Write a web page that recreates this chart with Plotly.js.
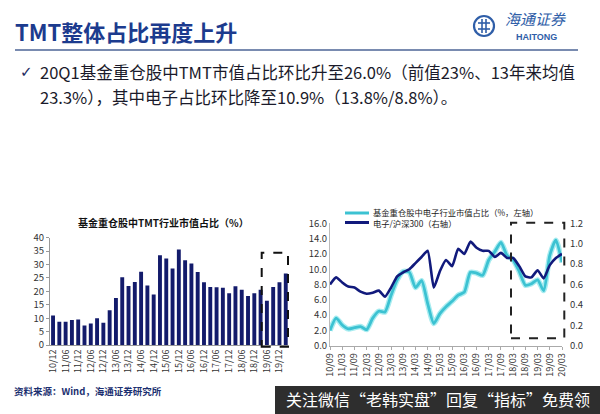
<!DOCTYPE html>
<html>
<head>
<meta charset="utf-8">
<script src="https://cdn.plot.ly/plotly-3.0.1.min.js"></script>
<style>html,body{margin:0;padding:0;background:#fff;}#chart{width:600px;height:414px;}</style>
</head>
<body>
<div id="chart"></div>
<script>
// Left chart: TMT share of fund heavy holdings (%)
var barQuarters = ["10/12","11/03","11/06","11/09","11/12","12/03","12/06","12/09","12/12","13/03","13/06","13/09","13/12","14/03","14/06","14/09","14/12","15/03","15/06","15/09","15/12","16/03","16/06","16/09","16/12","17/03","17/06","17/09","17/12","18/03","18/06","18/09","18/12","19/03","19/06","19/09","19/12","20/03"];
var tmtShare = [11.0,8.7,8.7,9.3,9.5,7.3,8.0,10.0,8.3,13.0,17.5,25.3,22.0,23.5,27.3,22.2,18.8,33.5,32.2,28.5,35.6,31.6,30.4,27.2,23.4,21.6,21.5,21.3,19.3,21.9,20.6,18.3,19.3,20.6,16.5,21.6,23.4,26.7];
var barTickLabels = ["10/12","11/06","11/12","12/06","12/12","13/06","13/12","14/06","14/12","15/06","15/12","16/06","16/12","17/06","17/12","18/06","18/12","19/06","19/12"];

// Right chart: electronics share (left axis, %) and electronics / CSI300 (right axis)
var lineQuarters = ["10/09","10/12","11/03","11/06","11/09","11/12","12/03","12/06","12/09","12/12","13/03","13/06","13/09","13/12","14/03","14/06","14/09","14/12","15/03","15/06","15/09","15/12","16/03","16/06","16/09","16/12","17/03","17/06","17/09","17/12","18/03","18/06","18/09","18/12","19/03","19/06","19/09","19/12","20/03"];
var elecShare = [2.0,3.6,2.7,2.2,2.35,2.5,2.1,3.6,4.5,4.4,6.6,8.6,9.7,9.6,7.6,8.5,5.5,2.9,4.2,5.1,5.8,6.6,7.0,9.6,9.5,9.2,11.2,12.3,13.5,11.8,11.2,9.7,7.9,8.1,8.6,7.2,11.8,13.8,10.9];
var elecVsHS300 = [0.60,0.67,0.62,0.58,0.57,0.53,0.51,0.52,0.54,0.48,0.57,0.68,0.72,0.75,0.81,0.87,0.93,0.57,0.73,0.84,0.78,0.95,0.90,1.02,0.96,0.93,0.93,0.87,0.91,0.86,0.86,0.78,0.68,0.67,0.74,0.66,0.79,0.86,0.90];
var lineTickLabels = ["10/09","11/03","11/09","12/03","12/09","13/03","13/09","14/03","14/09","15/03","15/09","16/03","16/09","17/03","17/09","18/03","18/09","19/03","19/09","20/03"];

var FONT = "'Noto Sans CJK SC','Noto Sans',Arial,sans-serif";
var W = 600, H = 414;
function px(x){return x/W;}
function py(y){return 1 - y/H;}

var traces = [
  {type:'bar', x:barQuarters, y:tmtShare, xaxis:'x', yaxis:'y', marker:{color:'#131b6b'}, width:0.62, showlegend:false, hoverinfo:'none'},
  {type:'scatter', mode:'lines', x:lineQuarters, y:elecShare, xaxis:'x2', yaxis:'y2', line:{color:'#a8ecf0', width:5.5, shape:'spline', smoothing:0.6}, showlegend:false, hoverinfo:'none'},
  {type:'scatter', mode:'lines', x:lineQuarters, y:elecShare, xaxis:'x2', yaxis:'y2', line:{color:'#3cc2d2', width:2.8, shape:'spline', smoothing:0.6}, showlegend:false, hoverinfo:'none'},
  {type:'scatter', mode:'lines', x:lineQuarters, y:elecVsHS300, xaxis:'x2', yaxis:'y3', line:{color:'#111a7c', width:2.6, shape:'spline', smoothing:0.5}, showlegend:false, hoverinfo:'none'}
];

var axFont = {family:FONT, size:9.5, color:'#333'};
var layout = {
  width:W, height:H, margin:{l:0,r:0,t:0,b:0},
  paper_bgcolor:'#fff', plot_bgcolor:'rgba(0,0,0,0)',
  showlegend:false, bargap:0.35,
  xaxis:{domain:[px(49.9),px(288.9)], anchor:'y', type:'category', range:[-0.5,37.5], tickmode:'array', tickvals:barTickLabels, ticktext:barTickLabels, tickangle:-90, tickfont:{family:FONT,size:9,color:'#333'}, showline:true, linecolor:'#999', linewidth:1, ticks:'', showgrid:false, zeroline:false, fixedrange:true},
  yaxis:{domain:[py(345),py(237.7)], anchor:'x', range:[0,40], dtick:5, tickfont:axFont, showline:true, linecolor:'#999', linewidth:1, ticks:'outside', ticklen:3, tickcolor:'#999', showgrid:false, zeroline:false, fixedrange:true},
  xaxis2:{domain:[px(330),px(562)], anchor:'y2', type:'category', range:[0,38], tickmode:'array', tickvals:lineTickLabels, ticktext:lineTickLabels, tickangle:-90, tickfont:{family:FONT,size:9,color:'#333'}, showline:true, linecolor:'#aaa', linewidth:1, ticks:'outside', ticklen:3, tickcolor:'#aaa', showgrid:false, zeroline:false, fixedrange:true},
  yaxis2:{domain:[py(345.7),py(223.3)], anchor:'x2', range:[0,16], dtick:2, tickformat:'.1f', tickfont:axFont, showline:true, linecolor:'#bbb', linewidth:1, ticks:'', showgrid:false, zeroline:false, fixedrange:true},
  yaxis3:{overlaying:'y2', anchor:'x2', side:'right', range:[0,1.2], dtick:0.2, tickformat:'.1f', tickfont:axFont, showline:false, ticks:'outside', ticklen:5, tickcolor:'rgba(0,0,0,0)', showgrid:false, zeroline:false, fixedrange:true},
  shapes:[
    // header rule
    {type:'line', xref:'paper', yref:'paper', x0:px(15), x1:px(578), y0:py(50), y1:py(50), line:{color:'#4d6596', width:1.5}},
    // logo circle
    {type:'circle', xref:'paper', yref:'paper', x0:px(474), x1:px(494), y0:py(36), y1:py(16), line:{color:'#2f5ea8', width:2.2}},
    {type:'line', xref:'paper', yref:'paper', x0:px(478), x1:px(490), y0:py(23), y1:py(23), line:{color:'#2f5ea8', width:1.6}},
    {type:'line', xref:'paper', yref:'paper', x0:px(478), x1:px(490), y0:py(29), y1:py(29), line:{color:'#2f5ea8', width:1.6}},
    {type:'line', xref:'paper', yref:'paper', x0:px(482), x1:px(482), y0:py(19), y1:py(33), line:{color:'#2f5ea8', width:1.6}},
    {type:'line', xref:'paper', yref:'paper', x0:px(486), x1:px(486), y0:py(19), y1:py(33), line:{color:'#2f5ea8', width:1.6}},
    // dashed highlight boxes
    {type:'rect', xref:'paper', yref:'paper', x0:px(261.7), x1:px(288), y0:py(346.7), y1:py(252.7), line:{color:'#111', width:2, dash:'dash'}},
    {type:'rect', xref:'paper', yref:'paper', x0:px(511), x1:px(564.3), y0:py(338.3), y1:py(222.7), line:{color:'#222', width:2, dash:'dash'}},
    // legend samples
    {type:'line', xref:'paper', yref:'paper', x0:px(345), x1:px(369), y0:py(213), y1:py(213), line:{color:'#3cc2d2', width:3}},
    {type:'line', xref:'paper', yref:'paper', x0:px(345), x1:px(369), y0:py(222.5), y1:py(222.5), line:{color:'#111a7c', width:3}},
    // watermark band
    {type:'rect', xref:'paper', yref:'paper', x0:px(275), x1:1, y0:0, y1:py(386), fillcolor:'#2e2e2e', line:{width:0}}
  ],
  annotations:[
    {xref:'paper', yref:'paper', x:px(13), y:py(31), xanchor:'left', yanchor:'middle', showarrow:false, text:'<b>TMT整体占比再度上升</b>', font:{family:FONT, size:22, color:'#1c3b8e'}},
    {xref:'paper', yref:'paper', x:px(503), y:py(19), xanchor:'left', yanchor:'middle', showarrow:false, text:'<i>海通证券</i>', font:{family:FONT, size:15, color:'#2f5ea8'}},
    {xref:'paper', yref:'paper', x:px(514), y:py(37), xanchor:'left', yanchor:'middle', showarrow:false, text:'<b>HAITONG</b>', font:{family:'Liberation Sans, Arial, sans-serif', size:9, color:'#2f5ea8'}},
    {xref:'paper', yref:'paper', x:px(18), y:py(72), xanchor:'left', yanchor:'middle', showarrow:false, text:'✓', font:{family:'DejaVu Sans', size:15, color:'#1c2a5e'}},
    {xref:'paper', yref:'paper', x:px(38), y:py(72), xanchor:'left', yanchor:'middle', showarrow:false, text:'20Q1基金重仓股中TMT市值占比环比升至26.0%（前值23%、13年来均值', font:{family:FONT, size:16.5, color:'#1a1a2a'}},
    {xref:'paper', yref:'paper', x:px(38), y:py(96.5), xanchor:'left', yanchor:'middle', showarrow:false, text:'23.3%），其中电子占比环比降至10.9%（13.8%/8.8%）。', font:{family:FONT, size:16.5, color:'#1a1a2a'}},
    {xref:'paper', yref:'paper', x:px(163), y:py(222.5), xanchor:'center', yanchor:'middle', showarrow:false, text:'<b>基金重仓股中TMT行业市值占比（%）</b>', font:{family:FONT, size:10, color:'#111'}},
    {xref:'paper', yref:'paper', x:px(371), y:py(212.5), xanchor:'left', yanchor:'middle', showarrow:false, text:'基金重仓股中电子行业市值占比（%，左轴）', font:{family:FONT, size:8.3, color:'#222'}},
    {xref:'paper', yref:'paper', x:px(371), y:py(222.5), xanchor:'left', yanchor:'middle', showarrow:false, text:'电子/沪深300（右轴）', font:{family:FONT, size:8.3, color:'#222'}},
    {xref:'paper', yref:'paper', x:px(12), y:py(391), xanchor:'left', yanchor:'middle', showarrow:false, text:'<b>资料来源：Wind，海通证券研究所</b>', font:{family:FONT, size:9.5, color:'#1c3070'}},
    {xref:'paper', yref:'paper', x:px(438), y:py(399), xanchor:'center', yanchor:'middle', showarrow:false, text:'关注微信“老韩实盘”回复“指标”免费领', font:{family:FONT, size:16, color:'#ffffff'}}
  ]
};

Plotly.newPlot('chart', traces, layout, {staticPlot:true, displayModeBar:false});
</script>
</body>
</html>
